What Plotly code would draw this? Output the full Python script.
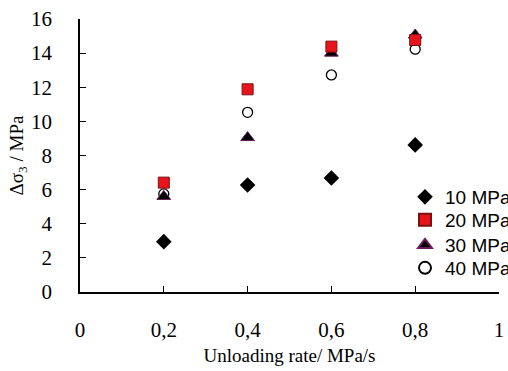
import plotly.graph_objects as go

rates = [0.2, 0.4, 0.6, 0.8]
s10 = [2.95, 6.27, 6.68, 8.62]
s20 = [6.41, 11.88, 14.38, 14.77]
s30 = [5.6, 9.05, 14.0, 15.06]
s40 = [5.75, 10.53, 12.72, 14.23]
names = ["10 MPa", "20 MPa", "30 MPa", "40 MPa"]
xticks = [0, 0.2, 0.4, 0.6, 0.8, 1]
xticklabels = ["0", "0,2", "0,4", "0,6", "0,8", "1"]
yticks = [0, 2, 4, 6, 8, 10, 12, 14, 16]

fig = go.Figure()
fig.add_trace(go.Scatter(x=rates, y=s40, mode="markers", name=names[3], legend="legend4",
                         marker=dict(symbol="circle-open", size=10, color="black", line=dict(width=1.3))))
fig.add_trace(go.Scatter(x=rates, y=s30, mode="markers", name=names[2], legend="legend3",
                         marker=dict(symbol="triangle-up", size=12, color="black", line=dict(color="#6a1a5a", width=1))))
fig.add_trace(go.Scatter(x=rates, y=s20, mode="markers", name=names[1], legend="legend2",
                         marker=dict(symbol="square", size=11, color="#e8141c", line=dict(color="#7a1010", width=1))))
fig.add_trace(go.Scatter(x=rates, y=s10, mode="markers", name=names[0], legend="legend",
                         marker=dict(symbol="diamond", size=12, color="black")))

W, H = 516, 371
legfont = dict(family="Liberation Sans", size=19, color="black")
legx = 405 / W
def leg(y):
    return dict(x=legx, y=y, xref="container", xanchor="left", yanchor="middle", font=legfont,
                bgcolor="rgba(0,0,0,0)", itemsizing="constant")

fig.update_layout(
    width=W, height=H,
    margin=dict(l=80, r=W - 499, t=19, b=79, autoexpand=False),
    plot_bgcolor="white", paper_bgcolor="white",
    font=dict(family="Liberation Serif", size=21, color="black"),
    showlegend=True,
    legend=leg(0.348), legend2=leg(0.264), legend3=leg(0.172), legend4=leg(0.088),
    xaxis=dict(range=[0, 1], tickvals=xticks, ticktext=xticklabels, showline=True,
               linecolor="black", linewidth=1.6, ticks="inside", ticklen=6, tickcolor="black",
               showgrid=False, zeroline=False, ticklabelstandoff=18, automargin=True,
               ticklabeloverflow="allow",
               title=dict(text="Unloading rate/ MPa/s", font=dict(size=19), standoff=8)),
    yaxis=dict(range=[0, 16], tickvals=yticks, showline=True, linecolor="black", linewidth=1.6,
               ticks="inside", ticklen=6, tickcolor="black", showgrid=False, zeroline=False,
               ticklabelstandoff=22, automargin=True, ticklabeloverflow="allow",
               title=dict(text="Δσ<sub>3</sub> / MPa", font=dict(size=19), standoff=2)),
)
fig.write_html("out.html", config={"displayModeBar": False},
               post_script="document.body.style.margin='0';document.body.style.overflow='hidden';")
